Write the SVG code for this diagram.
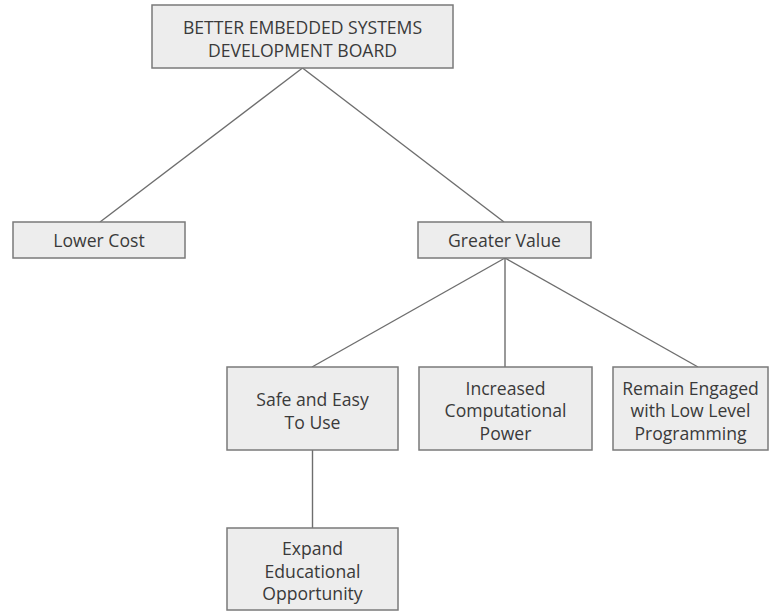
<svg xmlns="http://www.w3.org/2000/svg" width="773" height="611" viewBox="0 0 773 611">
<style>
.box{fill:#ededed;stroke:#7a7a7a;stroke-width:1.5}
.lbl{font-family:"Open Sans","Noto Sans",sans-serif;font-size:17.6px;fill:#3a3a3a;text-anchor:middle}
.conn line{stroke:#6e6e6e;stroke-width:1.4}
</style>
<rect width="773" height="611" fill="#ffffff"/>
<g id="connectors" class="conn">
<line x1="302.5" y1="68" x2="100" y2="222"/>
<line x1="302.5" y1="68" x2="504" y2="222"/>
<line x1="505" y1="258" x2="312" y2="367"/>
<line x1="505" y1="258" x2="505" y2="367"/>
<line x1="505" y1="258" x2="698" y2="367"/>
<line x1="312.5" y1="450" x2="312.5" y2="528"/>
</g>
<g id="root">
<rect class="box" x="152" y="5" width="301" height="63"/>
<text class="lbl"><tspan x="302.5" y="33.5">BETTER EMBEDDED SYSTEMS</tspan><tspan x="302.5" y="56.5">DEVELOPMENT BOARD</tspan></text>
</g>
<g id="lower-cost">
<rect class="box" x="13" y="222" width="172" height="36"/>
<text class="lbl" x="99" y="246.5">Lower Cost</text>
</g>
<g id="greater-value">
<rect class="box" x="418" y="222" width="173" height="36"/>
<text class="lbl" x="504.5" y="246.5">Greater Value</text>
</g>
<g id="safe-easy">
<rect class="box" x="227" y="367" width="171" height="83"/>
<text class="lbl"><tspan x="312.5" y="406">Safe and Easy</tspan><tspan x="312.5" y="428.5">To Use</tspan></text>
</g>
<g id="computational">
<rect class="box" x="419" y="367" width="173" height="83"/>
<text class="lbl"><tspan x="505.5" y="394.5">Increased</tspan><tspan x="505.5" y="417">Computational</tspan><tspan x="505.5" y="439.5">Power</tspan></text>
</g>
<g id="low-level">
<rect class="box" x="613" y="367" width="155" height="83"/>
<text class="lbl"><tspan x="690.5" y="394.5">Remain Engaged</tspan><tspan x="690.5" y="417">with Low Level</tspan><tspan x="690.5" y="439.5">Programming</tspan></text>
</g>
<g id="educational">
<rect class="box" x="227" y="528" width="171" height="82"/>
<text class="lbl"><tspan x="312.5" y="555">Expand</tspan><tspan x="312.5" y="577.5">Educational</tspan><tspan x="312.5" y="600">Opportunity</tspan></text>
</g>
</svg>
